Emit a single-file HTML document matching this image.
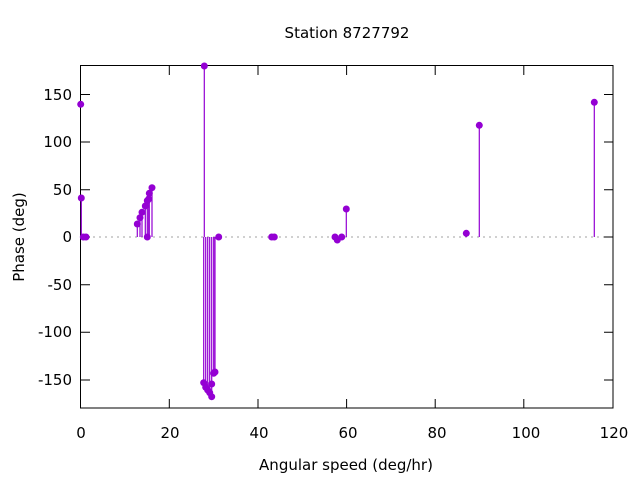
<!DOCTYPE html>
<html><head><meta charset="utf-8"><style>body{margin:0;background:#fff}svg{display:block}text{font-family:"DejaVu Sans","Liberation Sans",sans-serif;font-size:15px;fill:#000}</style></head><body>
<svg width="640" height="480" xmlns="http://www.w3.org/2000/svg">
<rect width="640" height="480" fill="#fff"/>
<line x1="81" y1="237" x2="613" y2="237" stroke="#a0a0a0" stroke-width="1" stroke-dasharray="2,4"/>
<g stroke="#000" stroke-width="1">
<rect x="80.5" y="65.5" width="532.5" height="342.5" fill="none"/>
<path d="M81 94.5h9M81 142h9M81 189.7h9M81 237h9M81 284.7h9M81 332.3h9M81 380h9M613 94.5h-9M613 142h-9M613 189.7h-9M613 237h-9M613 284.7h-9M613 332.3h-9M613 380h-9"/>
<path d="M169.3 408v-9M258 408v-9M346.6 408v-9M435.2 408v-9M523.8 408v-9M169.3 66v9M258 66v9M346.6 66v9M435.2 66v9M523.8 66v9"/>
</g>
<g text-anchor="end">
<text x="72" y="100">150</text><text x="72" y="147">100</text><text x="72" y="195">50</text><text x="72" y="242">0</text><text x="72" y="290">-50</text><text x="72" y="337">-100</text><text x="72" y="385">-150</text>
</g>
<g text-anchor="middle">
<text x="81" y="438">0</text><text x="170" y="438">20</text><text x="259" y="438">40</text><text x="348" y="438">60</text><text x="437" y="438">80</text><text x="526" y="438">100</text><text x="614" y="438">120</text>
<text x="346" y="470">Angular speed (deg/hr)</text>
<text x="347" y="38">Station 8727792</text>
<text transform="translate(24,237) rotate(-90)">Phase (deg)</text>
</g>
<g stroke="#9400d3" stroke-width="1.2">
<path d="M81.3 237V198M137.3 237V224M140 237V217.7M142 237V212.3M145.3 237V206M147.3 237V200.7M148.7 237V199M149.3 237V193.3M152 237V187.7M204.3 237V66M203.7 237V382.7M205.7 237V387.3M207.7 237V390M209.7 237V392.7M211.7 237V396.7M211.7 237V384M213.7 237V373.3M215 237V372M337.3 237V240M346.3 237V209M466.3 237V233.3M479.3 237V125.3M594.3 237V102.3"/>
</g>
<g fill="#9400d3">
<circle cx="80.7" cy="104.3" r="3.5"/><circle cx="81.3" cy="198" r="3.5"/><circle cx="83.3" cy="237" r="3.5"/><circle cx="86" cy="237" r="3.5"/>
<circle cx="137.3" cy="224" r="3.5"/><circle cx="140" cy="217.7" r="3.5"/><circle cx="142" cy="212.3" r="3.5"/><circle cx="145.3" cy="206" r="3.5"/><circle cx="147.3" cy="200.7" r="3.5"/><circle cx="147.3" cy="237" r="3.5"/><circle cx="148.7" cy="199" r="3.5"/><circle cx="149.3" cy="193.3" r="3.5"/><circle cx="152" cy="187.7" r="3.5"/>
<circle cx="204.3" cy="66" r="3.5"/><circle cx="203.7" cy="382.7" r="3.5"/><circle cx="205.7" cy="387.3" r="3.5"/><circle cx="207.7" cy="390" r="3.5"/><circle cx="209.7" cy="392.7" r="3.5"/><circle cx="211.7" cy="396.7" r="3.5"/><circle cx="211.7" cy="384" r="3.5"/><circle cx="213.7" cy="373.3" r="3.5"/><circle cx="215" cy="372" r="3.5"/><circle cx="218.7" cy="237" r="3.5"/>
<circle cx="271.7" cy="237" r="3.5"/><circle cx="274.3" cy="237" r="3.5"/>
<circle cx="335" cy="237" r="3.5"/><circle cx="337.3" cy="240" r="3.5"/><circle cx="341.7" cy="237" r="3.5"/><circle cx="346.3" cy="209" r="3.5"/>
<circle cx="466.3" cy="233.3" r="3.5"/><circle cx="479.3" cy="125.3" r="3.5"/><circle cx="594.3" cy="102.3" r="3.5"/>
</g>
</svg>
</body></html>
